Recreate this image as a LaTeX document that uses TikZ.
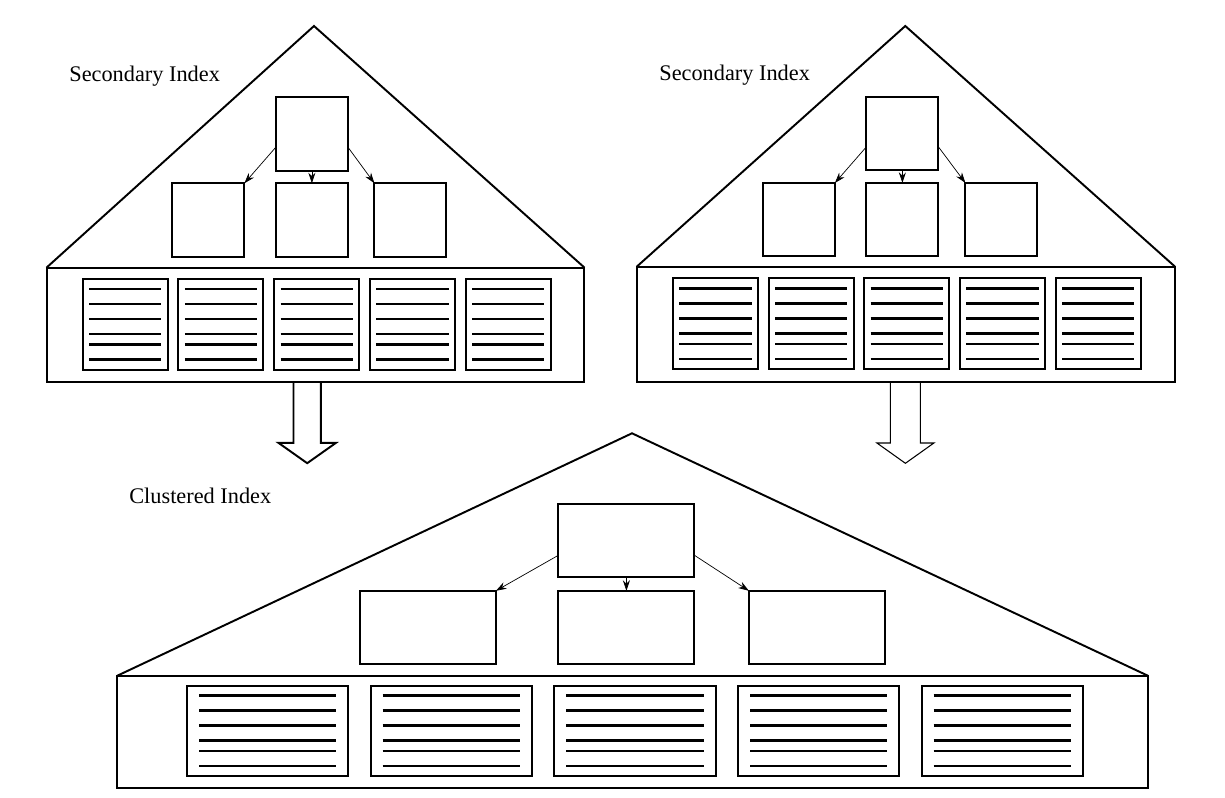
\documentclass[tikz,border=0pt]{standalone}
\usepackage{fontspec}
\setmainfont{Liberation Serif}
\usetikzlibrary{positioning,calc,arrows.meta}

\begin{document}
\begin{tikzpicture}[x=0.02cm,y=-0.02cm,->,>={Stealth[length=6pt,width=4pt]},
        thin,main node/.style={draw, rectangle, line width=1.1pt, outer sep=0pt},
        small node/.style={main node, minimum width=1.44cm, minimum height=1.47cm},
        wide node/.style={main node, minimum width=2.72cm, minimum height=1.46cm},
        base node/.style={main node, minimum height=2.28cm},
        page node/.style={main node, minimum height=1.82cm,
          path picture={
            \foreach \f in {0.11,0.275,0.44,0.605,0.72,0.885}
              \draw[-, line width=1.3pt] let \p1=(path picture bounding box.north west),
                \p2=(path picture bounding box.south east) in
                ({\x1+0.075*(\x2-\x1)},{\y1+\f*(\y2-\y1)}) -- ({\x2-0.075*(\x2-\x1)},{\y1+\f*(\y2-\y1)});
          }},
        roof/.style={-, line width=1.1pt, line join=miter},
        block arrow/.style={-, line join=miter},
        label node/.style={anchor=base west, inner sep=0pt, font=\fontsize{12.7}{15}\selectfont}]

\useasboundingbox (0,0) rectangle (1225,798);

% left secondary index
\coordinate (1) at (314,26);
\node[base node, minimum width=10.76cm] (2) at (315.5,324.6) {};
\node[small node] (3) at (311.9,134) {};
\node[small node, below=0.25cm of 3] (5) {};
\node[small node, left=0.63cm of 5] (4) {};
\node[small node, right=0.53cm of 5] (6) {};
\node[page node, minimum width=1.7cm] (7) at (125.2,324.5) {};
\node[page node, minimum width=1.7cm, right=0.215cm of 7] (8) {};
\node[page node, minimum width=1.7cm, right=0.215cm of 8] (9) {};
\node[page node, minimum width=1.7cm, right=0.215cm of 9] (10) {};
\node[page node, minimum width=1.7cm, right=0.215cm of 10] (11) {};
\node[label node] (12) at (69,81) {Secondary Index};

\draw[roof] (2.north west) -- (1) -- (2.north east);
\draw (3.200) -- (4.north east);
\draw (3.south) -- (5.north);
\draw (3.-20) -- (6.north west);

% right secondary index
\coordinate (13) at (905.3,26);
\node[base node, minimum width=10.77cm, minimum height=2.3cm] (14) at (905.9,324.2) {};
\node[small node] (15) at (902.4,133.7) {};
\node[small node, below=0.25cm of 15] (17) {};
\node[small node, left=0.63cm of 17] (16) {};
\node[small node, right=0.54cm of 17] (18) {};
\node[page node, minimum width=1.7cm] (19) at (715.4,323.9) {};
\node[page node, minimum width=1.7cm, right=0.215cm of 19] (20) {};
\node[page node, minimum width=1.7cm, right=0.215cm of 20] (21) {};
\node[page node, minimum width=1.7cm, right=0.215cm of 21] (22) {};
\node[page node, minimum width=1.7cm, right=0.215cm of 22] (23) {};
\node[label node] (24) at (659,80.5) {Secondary Index};

\draw[roof] (14.north west) -- (13) -- (14.north east);
\draw (15.200) -- (16.north east);
\draw (15.south) -- (17.north);
\draw (15.-20) -- (18.north west);

% clustered index
\coordinate (25) at (632,433.3);
\node[base node, minimum width=20.62cm, minimum height=2.25cm] (26) at (632.6,732) {};
\node[wide node] (27) at (626.4,540.8) {};
\node[wide node, below=0.27cm of 27] (29) {};
\node[wide node, left=1.25cm of 29] (28) {};
\node[wide node, right=1.09cm of 29] (30) {};
\node[page node, minimum width=3.23cm, minimum height=1.81cm] (31) at (267.7,730.9) {};
\node[page node, minimum width=3.23cm, minimum height=1.81cm, right=0.444cm of 31] (32) {};
\node[page node, minimum width=3.23cm, minimum height=1.81cm, right=0.444cm of 32] (33) {};
\node[page node, minimum width=3.23cm, minimum height=1.81cm, right=0.444cm of 33] (34) {};
\node[page node, minimum width=3.23cm, minimum height=1.81cm, right=0.444cm of 34] (35) {};
\node[label node] (36) at (129,503.3) {Clustered Index};

\draw[roof] (26.north west) -- (25) -- (26.north east);
\draw (27.192) -- (28.north east);
\draw (27.south) -- (29.north);
\draw (27.-12) -- (30.north west);

% hollow arrows
\draw[block arrow, line width=1.1pt] ([xshift=-0.44cm]2.south) -- ++(0,61.3) -- ++(-15,0)
  -- ++(28.7,20.3) -- ++(28.7,-20.3) -- ++(-15,0) -- ++(0,-61.3);
\draw[block arrow, line width=0.6pt] ([xshift=-0.31cm]14.south) -- ++(0,61.3) -- ++(-13.5,0)
  -- ++(28.5,20.3) -- ++(28.5,-20.3) -- ++(-13.5,0) -- ++(0,-61.3);

\end{tikzpicture}
\end{document}
